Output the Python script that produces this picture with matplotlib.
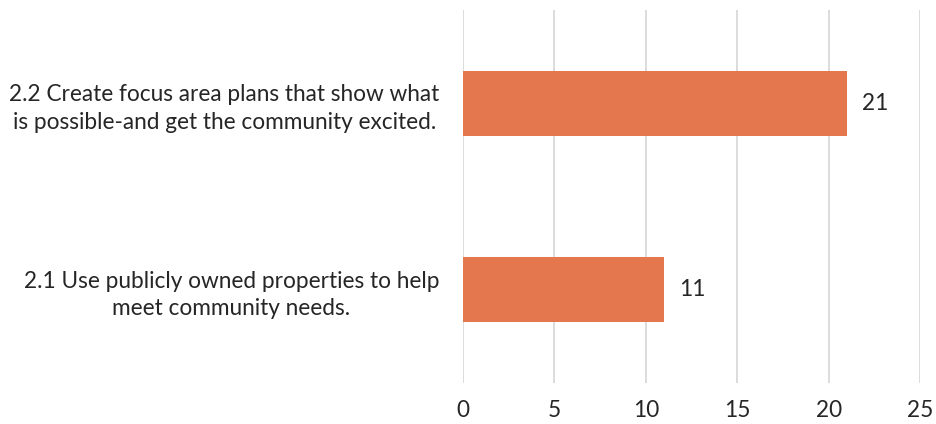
import matplotlib
matplotlib.use("Agg")
import matplotlib.pyplot as plt

# DATA
categories = ["2.1 Use publicly owned properties to help\nmeet community needs.",
              "2.2 Create focus area plans that show what\nis possible-and get the community excited."]
values = [11, 21]
xticks = [0, 5, 10, 15, 20, 25]

bar_color = "#E5774F"
text_color = "#262626"
plt.rcParams["font.family"] = ["Lato", "DejaVu Sans"]

fig = plt.figure(figsize=(9.37, 4.24), dpi=100)
ax = fig.add_axes([0.494, 0.097, 0.488, 0.879])

ypos = list(range(len(categories)))
ax.barh(ypos, values, height=0.35, color=bar_color, zorder=3)

for y, v in zip(ypos, values):
    ax.annotate(str(v), (v, y), xytext=(11, 0), textcoords="offset points",
                va="center", ha="left", fontsize=16.3, color=text_color)

ax.set_xlim(0, 25)
ax.set_ylim(-0.5, len(categories) - 0.5)
ax.set_xticks(xticks)
ax.set_yticks(ypos)
ax.set_yticklabels(categories, fontsize=16.3, color=text_color, ha="right",
                   multialignment="center", linespacing=1.4)
ax.tick_params(axis="x", labelsize=16.3, colors=text_color, length=0, pad=12)
ax.tick_params(axis="y", length=0, pad=17)
ax.grid(axis="x", color="#d9d9d9", linewidth=1.3, zorder=0)
for s in ax.spines.values():
    s.set_visible(False)

fig.savefig("out.png", dpi=100)
